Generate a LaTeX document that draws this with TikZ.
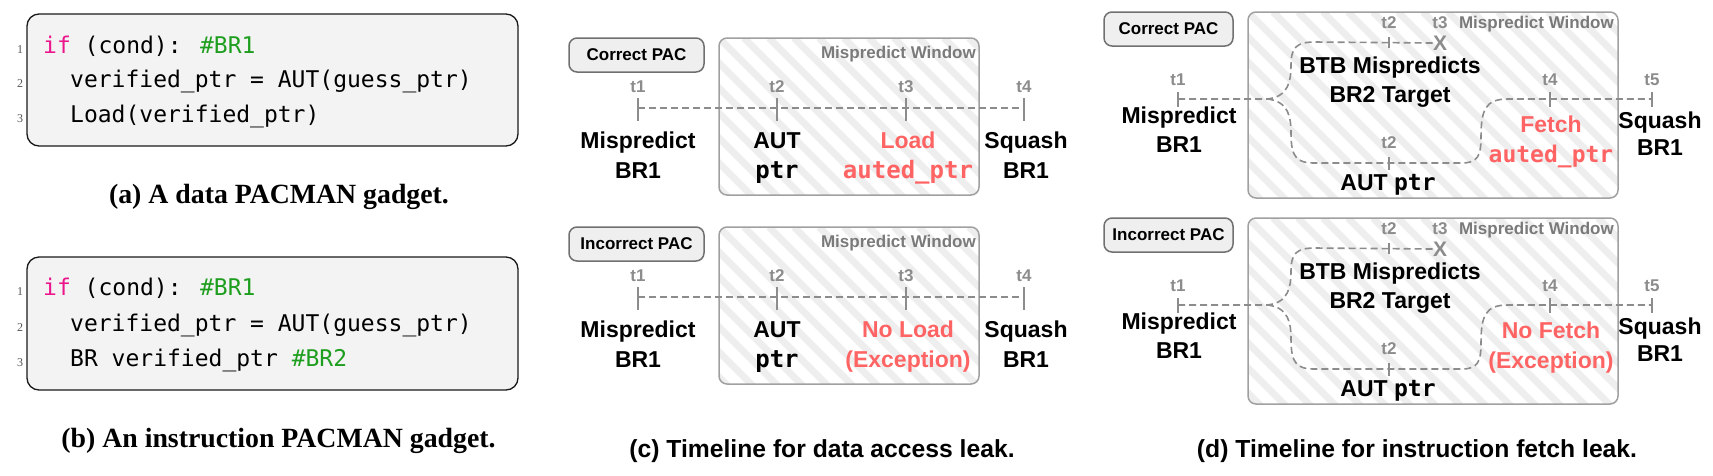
\documentclass[tikz,border=0pt]{standalone}
\usepackage{fontspec}
\setmainfont{Liberation Sans}
\newfontfamily\seriff{Liberation Serif}
\newfontfamily\monof{DejaVu Sans Mono}
\definecolor{kw}{HTML}{EC168C}
\definecolor{cm}{HTML}{1E9E1E}
\definecolor{redt}{HTML}{FF6464}
\definecolor{tgray}{HTML}{8C8C8C}
\definecolor{wgray}{HTML}{7A7A7A}
\definecolor{boxgray}{HTML}{A0A0A0}
\definecolor{pillborder}{HTML}{707070}
\definecolor{pillfill}{HTML}{EFEFEF}
\definecolor{codefill}{HTML}{F3F3F3}
\definecolor{lngray}{HTML}{555555}
\definecolor{hatchc}{HTML}{EEEEEE}
\tikzset{
  lab/.style={font=\bfseries\fontsize{23}{28}\selectfont, inner sep=0pt, anchor=base},
  monolab/.style={font=\monof\bfseries\fontsize{24}{28}\selectfont, inner sep=0pt, anchor=base},
  tlab/.style={font=\bfseries\fontsize{17}{20}\selectfont, text=tgray, inner sep=0pt, anchor=base},
  wtitle/.style={font=\bfseries\fontsize{17}{20}\selectfont, text=wgray, inner sep=0pt},
  pill/.style={draw=pillborder, fill=pillfill, line width=1.5pt, rounded corners=8pt,
     font=\bfseries\fontsize{17}{20}\selectfont, inner sep=0pt},
  codebox/.style={draw=black!90, fill=codefill, line width=1.3pt, rounded corners=12pt, inner sep=0pt},
  code/.style={font=\monof\fontsize{23}{28}\selectfont, inner sep=0pt, anchor=base west},
  lnum/.style={font=\seriff\fontsize{12}{14}\selectfont, text=lngray, inner sep=0pt, anchor=base},
  capserif/.style={font=\seriff\bfseries\fontsize{27.8}{32}\selectfont, inner sep=0pt, anchor=base},
  capsans/.style={font=\bfseries\fontsize{24.7}{30}\selectfont, inner sep=0pt, anchor=base},
  tline/.style={draw=tgray, line width=1.6pt, dash pattern=on 7pt off 4pt},
  tickln/.style={draw=tgray, line width=1.6pt},
  winbox/.style={draw=boxgray, line width=1.5pt, rounded corners=8pt},
  hatchln/.style={draw=hatchc, line width=7pt},
  xmk/.style={font=\bfseries\fontsize{21}{22}\selectfont, text=tgray, inner sep=0pt},
}
\newcommand\hatchbox[4]{%
  \begin{scope}
    \clip[rounded corners=8pt] (#1,#2) rectangle (#3,#4);
    \fill[white] (#1,#2) rectangle (#3,#4);
    \foreach \k in {-9,...,16} \draw[hatchln] ({#1+\k*25},#2) -- ++(230,230);
  \end{scope}
  \draw[winbox] (#1,#2) rectangle (#3,#4);}
\newcommand\panelC[5]{%
\begin{scope}[yshift=-#1 pt]
  \hatchbox{719}{38}{979}{195}
  \node[pill, minimum width=135pt, minimum height=34pt] (#2pill) at (636.5,55) {#3};
  \node[wtitle, anchor=base east] (#2wt) at (976,58) {Mispredict Window};
  \coordinate (#2ta) at (638,108);
  \coordinate (#2tb) at (777,108);
  \coordinate (#2tc) at (906,108);
  \coordinate (#2td) at (1024,108);
  \draw[tline] (#2ta) -- (#2td);
  \foreach \c in {ta,tb,tc,td} \draw[tickln] ([yshift=10pt]#2\c) -- ([yshift=-13pt]#2\c);
  \node[tlab] (#2la) at (638,92) {t1};
  \node[tlab] (#2lb) at (777,92) {t2};
  \node[tlab] (#2lc) at (906,92) {t3};
  \node[tlab] (#2ld) at (1024,92) {t4};
  \node[lab] (#2m1) at (638,148) {Mispredict};
  \node[lab] (#2m2) at (638,178) {BR1};
  \node[lab] (#2a1) at (777,148) {AUT};
  \node[monolab] (#2a2) at (777,178) {ptr};
  \node[lab, text=redt] (#2r1) at (908,148) {#4};
  \node[lab, text=redt] (#2r2) at (908,178) {#5};
  \node[lab] (#2s1) at (1026,148) {Squash};
  \node[lab] (#2s2) at (1026,178) {BR1};
\end{scope}}
\newcommand\panelD[5]{%
\begin{scope}[yshift=-#1 pt]
  \hatchbox{1248}{12}{1618}{198}
  \node[pill, minimum width=129pt, minimum height=34pt] (#2pill) at (1168.5,29) {#3};
  \node[wtitle, anchor=base east] (#2wt) at (1614,28) {Mispredict Window};
  \coordinate (#2ta) at (1178,99);
  \coordinate (#2sp) at (1267,99);
  \coordinate (#2u) at (1389,42);
  \coordinate (#2l) at (1389,163);
  \coordinate (#2td) at (1550,99);
  \coordinate (#2te) at (1652,99);
  \node[xmk] (#2x) at (1440,43) {X};
  \draw[tline] (#2ta) -- (#2sp) .. controls (1289,97) and (1291,80) .. (1291,65)
     .. controls (1291,47) and (1297,42) .. (1315,42) -- (#2x.west);
  \draw[tline] (#2sp) .. controls (1289,101) and (1291,118) .. (1291,133)
     .. controls (1291,158) and (1297,163) .. (1315,163) -- (1462,163)
     .. controls (1478,163) and (1481,155) .. (1481,138)
     .. controls (1481,110) and (1485,99) .. (1508,99) -- (#2te);
  \foreach \c in {ta,td,te} \draw[tickln] ([yshift=7pt]#2\c) -- ([yshift=-8pt]#2\c);
  \draw[tickln] ([yshift=5pt]#2u) -- ([yshift=-6pt]#2u);
  \draw[tickln] ([yshift=6pt]#2l) -- ([yshift=-7pt]#2l);
  \node[tlab] (#2la) at (1178,85) {t1};
  \node[tlab] (#2lb) at (1389,28) {t2};
  \node[tlab] (#2lc) at (1440,28) {t3};
  \node[tlab] (#2lbb) at (1389,148) {t2};
  \node[tlab] (#2ld) at (1550,85) {t4};
  \node[tlab] (#2le) at (1652,85) {t5};
  \node[lab] (#2b1) at (1390,73) {BTB Mispredicts};
  \node[lab] (#2b2) at (1390,102) {BR2 Target};
  \node[lab] (#2m1) at (1179,123) {Mispredict};
  \node[lab] (#2m2) at (1179,152) {BR1};
  \node[lab, text=redt] (#2r1) at (1551,132) {#4};
  \node[lab, text=redt] (#2r2) at (1551,162) {#5};
  \node[lab] (#2s1) at (1660,128) {Squash};
  \node[lab] (#2s2) at (1660,155) {BR1};
  \node[lab] (#2aut) at (1388,190) {AUT {\monof\fontsize{23}{28}\selectfont ptr}};
\end{scope}}
\begin{document}
\begin{tikzpicture}[x=1pt,y=-1pt]
\useasboundingbox (0,0) rectangle (1713,475);
% panel (a)
\node[codebox, minimum width=491pt, minimum height=132pt] (boxa) at (272.5,80) {};
\node[lnum] (an1) at (20,53) {1};
\node[lnum] (an2) at (20,87) {2};
\node[lnum] (an3) at (20,122) {3};
\node[code] (ac1) at (43,53) {\textcolor{kw}{if} (cond): \textcolor{cm}{\#BR1}};
\node[code] (ac2) at (70,87) {verified\_ptr = AUT(guess\_ptr)};
\node[code] (ac3) at (70,122) {Load(verified\_ptr)};
\node[capserif] (capa) at (279,203) {(a) A data PACMAN gadget.};
% panel (b)
\node[codebox, minimum width=491pt, minimum height=133pt] (boxb) at (272.5,323.5) {};
\node[lnum] (bn1) at (20,295) {1};
\node[lnum] (bn2) at (20,331) {2};
\node[lnum] (bn3) at (20,366) {3};
\node[code] (bc1) at (43,295) {\textcolor{kw}{if} (cond): \textcolor{cm}{\#BR1}};
\node[code] (bc2) at (70,331) {verified\_ptr = AUT(guess\_ptr)};
\node[code] (bc3) at (70,366) {BR verified\_ptr \textcolor{cm}{\#BR2}};
\node[capserif] (capb) at (278.5,447) {(b) An instruction PACMAN gadget.};
% panel (c)
\panelC{0}{ct}{Correct PAC}{Load}{{\monof\fontsize{24}{28}\selectfont auted\_ptr}}
\panelC{189}{cb}{Incorrect PAC}{No Load}{(Exception)}
\node[capsans] (capc) at (822,457) {(c) Timeline for data access leak.};
% panel (d)
\panelD{0}{dt}{Correct PAC}{Fetch}{{\monof\fontsize{23}{28}\selectfont auted\_ptr}}
\panelD{206}{db}{Incorrect PAC}{No Fetch}{(Exception)}
\node[capsans] (capd) at (1417,457) {(d) Timeline for instruction fetch leak.};
\end{tikzpicture}
\end{document}
